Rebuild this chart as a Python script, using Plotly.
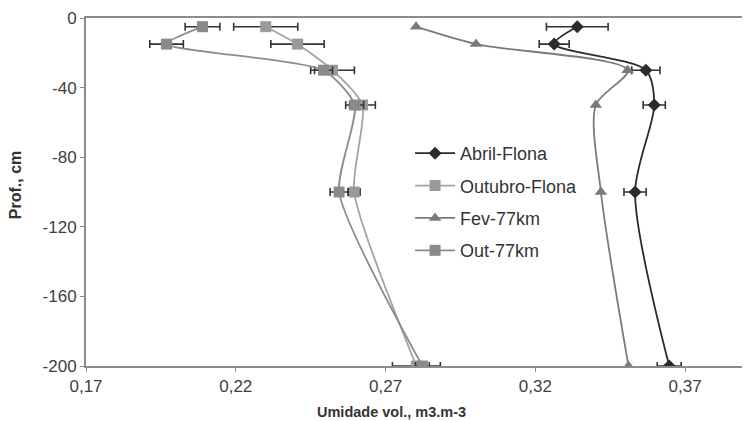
import plotly.graph_objects as go

depth = [-5, -15, -30, -50, -100, -200]

abril_flona = [0.334, 0.3263, 0.3569, 0.3597, 0.3533, 0.3647]
abril_flona_err = [0.0103, 0.005, 0.0047, 0.0037, 0.0037, 0.004]

outubro_flona = [0.230, 0.2406, 0.2523, 0.2623, 0.2595, 0.2803]
outubro_flona_err = [0.0107, 0.0089, 0.0073, 0.0043, 0.002, 0.008]

fev_77km = [0.2802, 0.3002, 0.3508, 0.3402, 0.3419, 0.3511]

out_77km = [0.2089, 0.1969, 0.2493, 0.2597, 0.2545, 0.2823]
out_77km_err = [0.0058, 0.0056, 0.003, 0.003, 0.003, 0.0023]

x_ticks = [0.17, 0.22, 0.27, 0.32, 0.37]
y_ticks = [0, -40, -80, -120, -160, -200]
y_tick_labels = ["0", "-40", "-80", "-120", "-160", "-200"]

FONT = "Arial, 'Liberation Sans', sans-serif"
ERR = "#333333"

fig = go.Figure()

def err(vals):
    return dict(type="data", array=vals, visible=True, color=ERR, thickness=1.6, width=4)

fig.add_trace(go.Scatter(
    x=abril_flona, y=depth, name="Abril-Flona", mode="lines+markers",
    line=dict(color="#2b2b2b", width=1.8, shape="spline", smoothing=0.8),
    marker=dict(symbol="diamond", size=10, color="#2b2b2b"),
    error_x=err(abril_flona_err), legendgroup="a"))

fig.add_trace(go.Scatter(
    x=outubro_flona, y=depth, name="Outubro-Flona", mode="lines+markers",
    line=dict(color="#a3a3a3", width=1.8, shape="spline", smoothing=0.6),
    marker=dict(symbol="square", size=11, color="#9a9a9a"),
    error_x=err(outubro_flona_err), legendgroup="b"))

fig.add_trace(go.Scatter(
    x=fev_77km, y=depth, name="Fev-77km", mode="lines+markers",
    line=dict(color="#7a7a7a", width=1.8, shape="spline", smoothing=0.8),
    marker=dict(symbol="triangle-up", size=11, color="#7a7a7a"),
    legendgroup="c"))

fig.add_trace(go.Scatter(
    x=out_77km, y=depth, name="Out-77km", mode="lines+markers",
    line=dict(color="#8c8c8c", width=1.8, shape="spline", smoothing=0.6),
    marker=dict(symbol="square", size=11, color="#8a8a8a"),
    error_x=err(out_77km_err), legendgroup="d"))

fig.update_layout(
    width=743, height=421,
    margin=dict(l=86, r=1, t=18, b=55),
    paper_bgcolor="white", plot_bgcolor="white",
    separators=", ",
    font=dict(family=FONT, size=16, color="#333333"),
    showlegend=True,
    legend=dict(x=0.494, y=0.664, xanchor="left", yanchor="top",
                bgcolor="rgba(0,0,0,0)", font=dict(size=18, color="#333333"),
                traceorder="grouped", tracegroupgap=6, itemwidth=40),
    xaxis=dict(range=[0.17, 0.389], tickvals=x_ticks, tickformat=".2f",
               showgrid=False, zeroline=False, showline=True, linecolor="#8c8c8c",
               linewidth=2, mirror=True, ticks="outside", ticklen=4, tickcolor="#8c8c8c",
               tickfont=dict(size=17, color="#404040")),
    yaxis=dict(range=[-200, 0], tickvals=y_ticks, ticktext=y_tick_labels,
               showgrid=False, zeroline=False, showline=True, linecolor="#8c8c8c",
               linewidth=2, ticks="outside", ticklen=4, tickcolor="#8c8c8c",
               tickfont=dict(size=17, color="#404040")),
    annotations=[
        dict(text="<b>Umidade vol., m3.m-3</b>", xref="paper", yref="paper",
             x=0.466, y=-0.133, xanchor="center", yanchor="middle", showarrow=False,
             font=dict(size=14.5, color="#333333")),
        dict(text="<b>Prof., cm</b>", xref="paper", yref="paper",
             x=-0.108, y=0.52, xanchor="center", yanchor="middle", showarrow=False,
             textangle=-90, font=dict(size=16, color="#333333")),
    ],
)

fig.write_html("out.html",
               config={"displayModeBar": False},
               post_script="document.body.style.margin='0';document.body.style.overflow='hidden';")
